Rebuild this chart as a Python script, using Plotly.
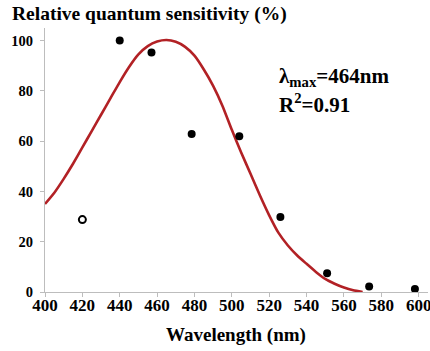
import plotly.graph_objects as go

# Fitted template curve (wavelength nm, relative sensitivity %)
curve_x = [400, 405, 410, 415, 420, 425, 430, 435, 440, 445, 450, 455, 460, 465, 470,
           475, 480, 485, 490, 495, 500, 505, 510, 515, 520, 525, 530, 535, 540, 545,
           550, 555, 560, 565, 570]
curve_y = [35, 39.5, 45, 51, 57.5, 64, 70.5, 77, 83.5, 89.5, 94.5, 97.8, 99.6, 100.2, 99.5,
           97.5, 94, 88.5, 82, 74, 64.5, 55.5, 47, 38.5, 30.5, 23.5, 18.5, 14.5, 11.2, 8,
           5.2, 3.3, 1.8, 0.7, 0]

# Measured points (filled)
pts_x = [440, 457, 478.5, 504, 526, 551, 573.5, 598]
pts_y = [100, 95.3, 62.8, 61.9, 29.8, 7.5, 2.2, 1.2]

# Excluded point (open)
open_x = [420]
open_y = [28.8]

x_ticks = list(range(400, 601, 20))
y_ticks = list(range(0, 101, 20))

FONT = "Liberation Serif"

fig = go.Figure()
fig.add_trace(go.Scatter(x=curve_x, y=curve_y, mode="lines",
                         line=dict(color="#B22125", width=2.6, shape="spline", smoothing=0.5),
                         showlegend=False, hoverinfo="skip"))
fig.add_trace(go.Scatter(x=pts_x, y=pts_y, mode="markers",
                         marker=dict(color="black", size=8),
                         showlegend=False))
fig.add_trace(go.Scatter(x=open_x, y=open_y, mode="markers",
                         marker=dict(color="white", size=7, line=dict(color="black", width=2)),
                         showlegend=False))

fig.update_xaxes(range=[400, 605], tickvals=x_ticks, showgrid=False, zeroline=False,
                 showline=True, linecolor="#BDBDBD", linewidth=1, automargin=False,
                 ticks="outside", ticklen=4, tickcolor="#BDBDBD",
                 ticklabeloverflow="allow", ticklabelstandoff=-6,
                 tickfont=dict(family=FONT, size=17, color="black", weight="bold"))
fig.update_yaxes(range=[0, 105], tickvals=y_ticks, showgrid=False, zeroline=False,
                 showline=True, linecolor="#BDBDBD", linewidth=1, automargin=False,
                 ticks="outside", ticklen=4, tickcolor="#BDBDBD",
                 ticklabelstandoff=4,
                 tickfont=dict(family=FONT, size=14.5, color="black", weight="bold"))

L, R, T, B = 45, 2, 28, 59
W, H = 430, 351
pw, ph = W - L - R, H - T - B

def px(xp):
    return (xp - L) / pw

def py(yp):
    return (H - B - yp) / ph

annots = [
    dict(text="<b>Relative quantum sensitivity (%)</b>", x=px(10), y=py(14),
         xanchor="left", yanchor="middle", font=dict(size=19.5)),
    dict(text="<b>Wavelength (nm)</b>", x=px(236), y=py(335),
         xanchor="center", yanchor="middle", font=dict(size=19)),
    dict(text="<b>λ<sub>max</sub>=464nm</b>", x=px(277), y=py(77),
         xanchor="left", yanchor="middle", font=dict(size=21)),
    dict(text="<b>R<sup>2</sup>=0.91</b>", x=px(277), y=py(104),
         xanchor="left", yanchor="middle", font=dict(size=21)),
]
for a in annots:
    a.update(xref="paper", yref="paper", showarrow=False)
    a["font"].update(family=FONT, color="black")

fig.update_layout(width=W, height=H, margin=dict(l=L, r=R, t=T, b=B),
                  paper_bgcolor="white", plot_bgcolor="white",
                  annotations=annots)

fig.write_html("out.html", config={"displayModeBar": False},
               post_script="document.body.style.margin='0';document.body.style.overflow='hidden';")
